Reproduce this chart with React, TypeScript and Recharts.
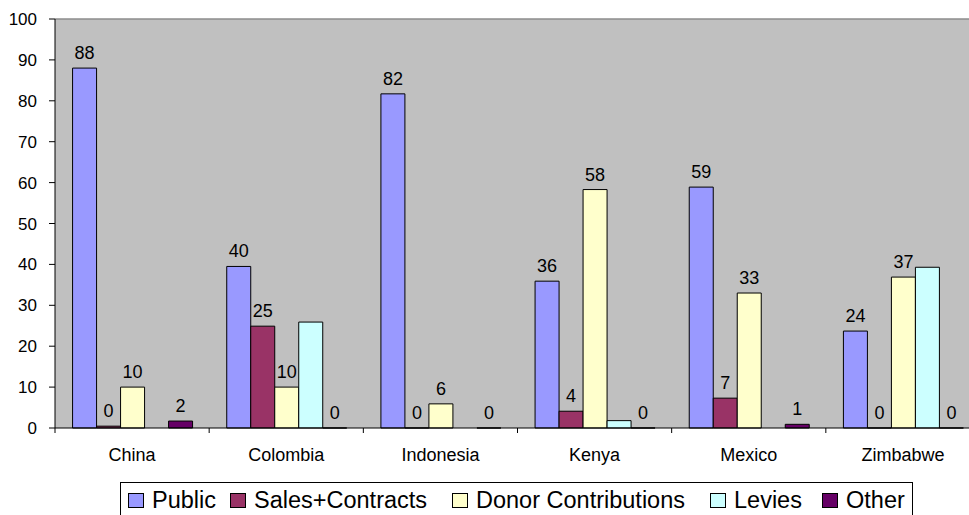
import React from "react";
import {
  BarChart,
  Bar,
  XAxis,
  YAxis,
  CartesianGrid,
  LabelList,
  Legend,
  ReferenceLine,
} from "recharts";

const CATEGORIES = ["China", "Colombia", "Indonesia", "Kenya", "Mexico", "Zimbabwe"];
const PUBLIC = [88, 39.5, 81.7, 35.9, 58.9, 23.7];
const SALES = [0.45, 24.9, 0, 4.1, 7.3, 0];
const DONOR = [10, 10, 5.9, 58.3, 33, 36.9];
const LEVIES = [0, 25.9, 0, 1.8, 0, 39.3];
const OTHER = [1.7, 0, 0, 0, 0.9, 0];
const Y_TICKS = [0, 10, 20, 30, 40, 50, 60, 70, 80, 90, 100];

const SERIES = [
  { key: "Public", color: "#9999FF", labelled: true },
  { key: "Sales+Contracts", color: "#993366", labelled: true },
  { key: "Donor Contributions", color: "#FFFFCC", labelled: true },
  { key: "Levies", color: "#CCFFFF", labelled: false },
  { key: "Other", color: "#660066", labelled: true },
];

const data = CATEGORIES.map((c, i) => ({
  name: c,
  Public: PUBLIC[i],
  "Sales+Contracts": SALES[i],
  "Donor Contributions": DONOR[i],
  Levies: LEVIES[i],
  Other: OTHER[i],
}));

const FONT = "'Liberation Sans', Arial, Helvetica, sans-serif";
const CHART_W = 990;
const CHART_H = 515;
const MARGIN = { top: 19, right: 10, left: 0, bottom: 57 };
const Y_W = 55;
const PLOT_W = CHART_W - MARGIN.left - MARGIN.right - Y_W;
const BAND = PLOT_W / CATEGORIES.length;
// legend item offsets inside the legend box (layout only)
const LEGEND_ITEM_LEFT = [7, 109, 331, 589, 701];

const CatTick = (props: any) => {
  const { x, y, payload } = props;
  const half = BAND / 2;
  return (
    <g>
      <line x1={x - half} x2={x - half} y1={y} y2={y + 5} stroke="#000" strokeWidth={1} />
      {payload.index === CATEGORIES.length - 1 && (
        <line x1={x + half} x2={x + half} y1={y} y2={y + 5} stroke="#000" strokeWidth={1} />
      )}
      <text x={x} y={y + 33} textAnchor="middle" fontSize={18} fontFamily={FONT} fill="#000">
        {payload.value}
      </text>
    </g>
  );
};

const ValueLabel = (p: any) => {
  const vb = p.viewBox || {};
  const x = p.x ?? vb.x;
  const y = p.y ?? vb.y;
  const width = p.width ?? vb.width ?? 0;
  const height = p.height ?? vb.height ?? 0;
  const value = p.value;
  if (x == null || y == null) return null;
  const top = Number(height) < 0.5 ? Number(y) + Number(height) : Number(y);
  return (
    <text
      x={Number(x) + Number(width) / 2}
      y={top - 9}
      textAnchor="middle"
      fontSize={18}
      fontFamily={FONT}
      fill="#000"
    >
      {String(Math.round(Number(value ?? 0)))}
    </text>
  );
};

const LegendContent = () => (
  <div
    style={{
      position: "relative",
      boxSizing: "border-box",
      border: "1px solid #000",
      background: "#fff",
      width: 793,
      height: 50,
      fontFamily: FONT,
      fontSize: 23.5,
      color: "#000",
      whiteSpace: "nowrap",
    }}
  >
    {SERIES.map((s, i) => (
      <div
        key={s.key}
        style={{
          position: "absolute",
          left: LEGEND_ITEM_LEFT[i],
          top: 3.7,
          display: "flex",
          alignItems: "center",
          lineHeight: "27px",
        }}
      >
        <span
          style={{
            display: "inline-block",
            boxSizing: "border-box",
            width: 16,
            height: 15,
            background: s.color,
            border: "1px solid #000",
            marginRight: 8,
          }}
        />
        <span>{s.key}</span>
      </div>
    ))}
  </div>
);

const zeroMin = (v: any) => (Number(v) === 0 ? 0.01 : 0);

export default function App() {
  return (
    <div
      style={{
        position: "absolute",
        left: 0,
        top: 0,
        width: 969,
        height: 515,
        overflow: "hidden",
        background: "#fff",
      }}
    >
      <BarChart
        width={CHART_W}
        height={CHART_H}
        data={data}
        margin={MARGIN}
        barCategoryGap="11.4%"
        barGap={0}
      >
        <CartesianGrid fill="#C0C0C0" horizontal={false} vertical={false} />
        <ReferenceLine y={100} stroke="#8c8c8c" strokeWidth={1.5} ifOverflow="visible" />
        <XAxis
          dataKey="name"
          interval={0}
          tickLine={false}
          tickSize={0}
          tickMargin={0}
          height={30}
          axisLine={{ stroke: "#000" }}
          tick={<CatTick />}
        />
        <YAxis
          width={Y_W}
          domain={[0, 100]}
          ticks={Y_TICKS}
          interval={0}
          tickSize={6}
          tickMargin={12}
          axisLine={{ stroke: "#000" }}
          tickLine={{ stroke: "#000" }}
          tick={{ fill: "#000", fontSize: 17, fontFamily: FONT }}
        />
        {SERIES.map((s) => (
          <Bar
            key={s.key}
            dataKey={s.key}
            fill={s.color}
            stroke="#000"
            strokeWidth={1}
            isAnimationActive={false}
            minPointSize={s.labelled ? zeroMin : 0}
          >
            {s.labelled && <LabelList dataKey={s.key} content={<ValueLabel />} />}
          </Bar>
        ))}
        <Legend
          layout="horizontal"
          verticalAlign="middle"
          align="center"
          content={<LegendContent />}
          wrapperStyle={{ position: "absolute", left: 120, top: 482, width: 793, height: 50 }}
        />
      </BarChart>
    </div>
  );
}
